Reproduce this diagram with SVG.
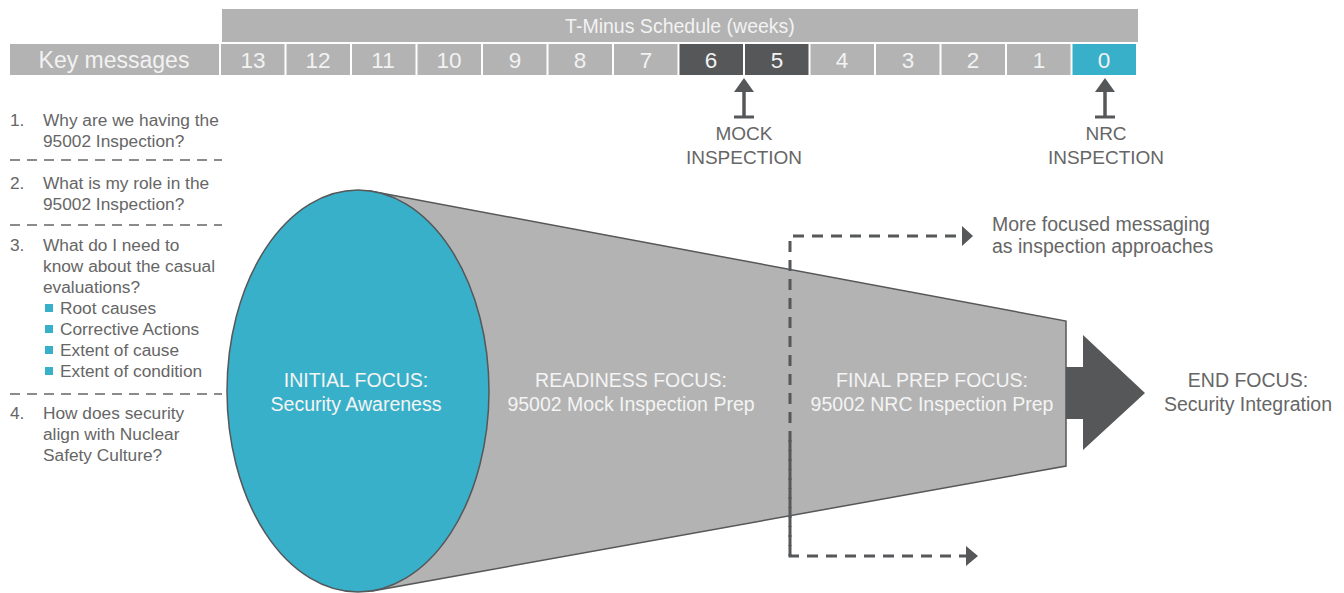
<svg xmlns="http://www.w3.org/2000/svg" width="1344" height="593" viewBox="0 0 1344 593">
  <style>
    .hdr { fill: #b3b3b3; }
    .cell { fill: #b3b3b3; }
    .dark { fill: #555759; }
    .teal { fill: #39b0c9; }
    .wt { fill: #f2f2f2; font-family: "Liberation Sans", Arial, sans-serif; font-size: 22.5px; text-anchor: middle; }
    .lbl { fill: #666; font-family: "Liberation Sans", Arial, sans-serif; font-size: 19px; }
    .c { text-anchor: middle; }
    .lst { fill: #666; font-family: "Liberation Sans", Arial, sans-serif; font-size: 17.3px; }
    .sep { stroke: #666; stroke-width: 1.5; stroke-dasharray: 10 7; }
    .ftxt { fill: #f4f4f4; font-family: "Liberation Sans", Arial, sans-serif; font-size: 19.5px; text-anchor: middle; }
    .dash { fill: none; stroke: #555759; stroke-width: 3; stroke-dasharray: 11 8; }
  </style>
  <rect width="1344" height="593" fill="#fff"/>

  <!-- schedule header -->
  <g id="schedule">
    <rect class="hdr" x="222" y="9" width="916" height="33"/>
    <text class="wt" x="680" y="33" style="font-size:19.5px">T-Minus Schedule (weeks)</text>
    <rect class="cell" x="10" y="44" width="209" height="31"/>
    <text class="wt" x="114" y="68" style="font-size:23px">Key messages</text>
    <g id="weeks">
      <rect class="cell" x="221" y="44" width="63.5" height="31"/><text class="wt" x="253" y="68">13</text>
      <rect class="cell" x="286.5" y="44" width="63.5" height="31"/><text class="wt" x="318" y="68">12</text>
      <rect class="cell" x="352" y="44" width="63.5" height="31"/><text class="wt" x="383" y="68">11</text>
      <rect class="cell" x="417.5" y="44" width="63.5" height="31"/><text class="wt" x="449" y="68">10</text>
      <rect class="cell" x="483" y="44" width="63.5" height="31"/><text class="wt" x="515" y="68">9</text>
      <rect class="cell" x="548.5" y="44" width="63.5" height="31"/><text class="wt" x="580" y="68">8</text>
      <rect class="cell" x="614" y="44" width="63.5" height="31"/><text class="wt" x="646" y="68">7</text>
      <rect class="dark" x="679.5" y="44" width="63.5" height="31"/><text class="wt" x="711" y="68">6</text>
      <rect class="dark" x="745" y="44" width="63.5" height="31"/><text class="wt" x="777" y="68">5</text>
      <rect class="cell" x="810.5" y="44" width="63.5" height="31"/><text class="wt" x="842" y="68">4</text>
      <rect class="cell" x="876" y="44" width="63.5" height="31"/><text class="wt" x="908" y="68">3</text>
      <rect class="cell" x="941.5" y="44" width="63.5" height="31"/><text class="wt" x="973" y="68">2</text>
      <rect class="cell" x="1007" y="44" width="63.5" height="31"/><text class="wt" x="1039" y="68">1</text>
      <rect class="teal" x="1072.5" y="44" width="63.5" height="31"/><text class="wt" x="1104" y="68">0</text>
    </g>
  </g>

  <!-- inspection markers -->
  <g id="mock-inspection">
    <path d="M744,78 L754,92 L734,92 z" fill="#555759"/>
    <line x1="744" y1="90" x2="744" y2="117" stroke="#555759" stroke-width="3.5"/>
    <line x1="734" y1="117" x2="754" y2="117" stroke="#555759" stroke-width="3"/>
    <text class="lbl c" x="744" y="140">MOCK</text>
    <text class="lbl c" x="744" y="164">INSPECTION</text>
  </g>
  <g id="nrc-inspection">
    <path d="M1105,78 L1115,92 L1095,92 z" fill="#555759"/>
    <line x1="1105" y1="90" x2="1105" y2="117" stroke="#555759" stroke-width="3.5"/>
    <line x1="1095" y1="117" x2="1115" y2="117" stroke="#555759" stroke-width="3"/>
    <text class="lbl c" x="1106" y="140">NRC</text>
    <text class="lbl c" x="1106" y="164">INSPECTION</text>
  </g>

  <!-- key message list -->
  <g id="key-messages">
    <text class="lst" x="10" y="126">1.</text>
    <text class="lst" x="43" y="126">Why are we having the</text>
    <text class="lst" x="43" y="147">95002 Inspection?</text>
    <line class="sep" x1="10" y1="160" x2="222" y2="160"/>
    <text class="lst" x="10" y="189">2.</text>
    <text class="lst" x="43" y="189">What is my role in the</text>
    <text class="lst" x="43" y="210">95002 Inspection?</text>
    <line class="sep" x1="10" y1="225" x2="222" y2="225"/>
    <text class="lst" x="10" y="251">3.</text>
    <text class="lst" x="43" y="251">What do I need to</text>
    <text class="lst" x="43" y="272">know about the casual</text>
    <text class="lst" x="43" y="293">evaluations?</text>
    <rect class="teal" x="45" y="304" width="8" height="8"/>
    <text class="lst" x="60" y="314">Root causes</text>
    <rect class="teal" x="45" y="325" width="8" height="8"/>
    <text class="lst" x="60" y="335">Corrective Actions</text>
    <rect class="teal" x="45" y="346" width="8" height="8"/>
    <text class="lst" x="60" y="356">Extent of cause</text>
    <rect class="teal" x="45" y="367" width="8" height="8"/>
    <text class="lst" x="60" y="377">Extent of condition</text>
    <line class="sep" x1="10" y1="394" x2="222" y2="394"/>
    <text class="lst" x="10" y="419">4.</text>
    <text class="lst" x="43" y="419">How does security</text>
    <text class="lst" x="43" y="440">align with Nuclear</text>
    <text class="lst" x="43" y="461">Safety Culture?</text>
  </g>

  <!-- focus cone -->
  <g id="cone">
    <polygon points="370,191 1066,321 1066,466 372,591" fill="#b3b3b3" stroke="#555759" stroke-width="1.5"/>
    <ellipse cx="358" cy="391" rx="131" ry="201" fill="#39b0c9" stroke="#555759" stroke-width="1.5"/>
  </g>
  <g id="end-arrow">
    <polygon points="1066,367 1083,367 1083,335 1145,393 1083,450 1083,419 1066,419" fill="#555759"/>
  </g>

  <g id="initial-focus">
    <text class="ftxt" x="356" y="387">INITIAL FOCUS:</text>
    <text class="ftxt" x="356" y="411">Security Awareness</text>
  </g>
  <g id="readiness-focus">
    <text class="ftxt" x="631" y="387">READINESS FOCUS:</text>
    <text class="ftxt" x="631" y="411">95002 Mock Inspection Prep</text>
  </g>
  <g id="final-prep-focus">
    <text class="ftxt" x="932" y="387">FINAL PREP FOCUS:</text>
    <text class="ftxt" x="932" y="411">95002 NRC Inspection Prep</text>
  </g>
  <g id="end-focus">
    <text class="lbl c" x="1248" y="387" style="font-size:19.5px">END FOCUS:</text>
    <text class="lbl c" x="1248" y="411" style="font-size:19.5px">Security Integration</text>
  </g>

  <!-- dashed focus connectors -->
  <g id="connectors">
    <path class="dash" d="M790,556 L790,236 L962,236"/>
    <path d="M962,226 L973,236 L962,246 z" fill="#555759"/>
    <path class="dash" d="M790,440 L790,556 L966,556"/>
    <path d="M966,546 L978,556 L966,566 z" fill="#555759"/>
  </g>
  <g id="note">
    <text class="lbl" x="992" y="231" style="font-size:19.5px">More focused messaging</text>
    <text class="lbl" x="992" y="253" style="font-size:19.5px">as inspection approaches</text>
  </g>
</svg>
